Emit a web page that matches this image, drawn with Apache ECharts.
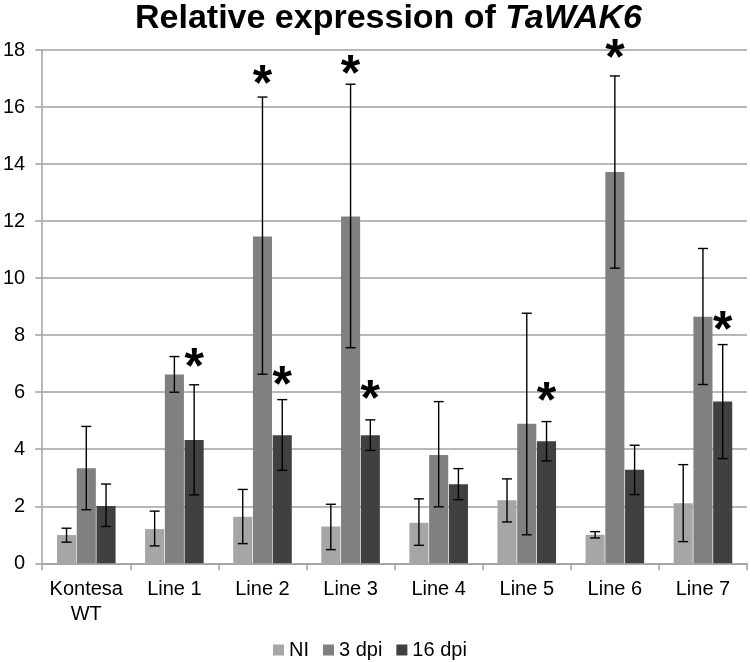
<!DOCTYPE html>
<html>
<head>
<meta charset="utf-8">
<script src="https://cdn.jsdelivr.net/npm/echarts@6/dist/echarts.min.js"></script>
<style>html,body{margin:0;padding:0;background:#fff}#c{width:750px;height:662px}</style>
</head>
<body>
<div id="c"></div>
<script>
const categories = ['Kontesa\nWT', 'Line 1', 'Line 2', 'Line 3', 'Line 4', 'Line 5', 'Line 6', 'Line 7'];
const seriesNames = ['NI', '3 dpi', '16 dpi'];
const yTicks = [0, 2, 4, 6, 8, 10, 12, 14, 16, 18];

const ni      = [0.99, 1.20, 1.63, 1.29, 1.42, 2.21, 1.00, 2.11];
const niLow   = [0.74, 0.61, 0.69, 0.48, 0.63, 1.45, 0.89, 0.76];
const niHigh  = [1.23, 1.83, 2.59, 2.07, 2.26, 2.96, 1.11, 3.46];

const dpi3     = [3.33, 6.62, 11.46, 12.16, 3.80, 4.89, 13.72, 8.65];
const dpi3Low  = [1.88, 6.00, 6.63, 7.56, 1.98, 1.00, 10.35, 6.27];
const dpi3High = [4.80, 7.25, 16.35, 16.80, 5.67, 8.77, 17.09, 11.04];

const dpi16     = [2.01, 4.32, 4.49, 4.49, 2.77, 4.28, 3.28, 5.67];
const dpi16Low  = [1.29, 2.40, 3.26, 3.96, 2.23, 3.59, 2.41, 3.67];
const dpi16High = [2.78, 6.26, 5.74, 5.03, 3.32, 4.97, 4.14, 7.67];

// significance star positions (value units), null = no star
const niStars    = [null, null, null, null, null, null, null, null];
const dpi3Stars  = [null, null, 17.13, 17.49, null, null, 18.05, null];
const dpi16Stars = [null, 7.2, 6.57, 6.09, null, 6.03, null, 8.5];

const colors = ['#a6a6a6', '#808080', '#404040'];
const CAT_GAP = 0.335, BAR_GAP = 0.035, NBARS = 3;

function errSeries(idx, low, high, stars) {
  const data = low.map((l, i) => [i, l, high[i], stars[i] == null ? NaN : stars[i]]);
  return {
    type: 'custom',
    name: 'err' + idx,
    z: 5,
    encode: { x: 0, y: [1, 2] },
    data: data,
    renderItem: function (params, api) {
      const ci = api.value(0);
      const band = api.size([1, 0])[0];
      const usable = band * (1 - CAT_GAP);
      const w = usable / (NBARS + (NBARS - 1) * BAR_GAP);
      const cx = api.coord([ci, 0])[0] - usable / 2 + w / 2 + idx * w * (1 + BAR_GAP);
      const yl = api.coord([ci, api.value(1)])[1];
      const yh = api.coord([ci, api.value(2)])[1];
      const cap = 5;
      const ls = { stroke: '#000', lineWidth: 1.4 };
      const children = [
        { type: 'line', shape: { x1: cx, y1: yl, x2: cx, y2: yh }, style: ls },
        { type: 'line', shape: { x1: cx - cap, y1: yl, x2: cx + cap, y2: yl }, style: ls },
        { type: 'line', shape: { x1: cx - cap, y1: yh, x2: cx + cap, y2: yh }, style: ls }
      ];
      const sv = api.value(3);
      if (!isNaN(sv)) {
        const fs = 50;
        const ys = api.coord([ci, sv])[1];
        children.push({
          type: 'text',
          style: {
            text: '*', x: cx, y: ys + 0.23 * fs,
            font: 'bold ' + fs + 'px "Liberation Sans", Arial, sans-serif',
            align: 'center', verticalAlign: 'middle', fill: '#000'
          }
        });
      }
      return { type: 'group', children: children };
    }
  };
}

const chart = echarts.init(document.getElementById('c'), null, { renderer: 'canvas' });
const axisGray = '#a0a0a0';
chart.setOption({
  animation: false,
  backgroundColor: '#fff',
  title: {
    text: '{b|Relative expression of }{i|TaWAK6}',
    left: 135, top: 2, padding: 0,
    textStyle: {
      rich: {
        b: { fontSize: 34, fontWeight: 'bold', color: '#000', fontFamily: '"Liberation Sans", Arial, sans-serif', lineHeight: 34 },
        i: { fontSize: 34, fontWeight: 'bold', fontStyle: 'italic', color: '#000', fontFamily: '"Liberation Sans", Arial, sans-serif', lineHeight: 34 }
      }
    }
  },
  legend: {
    data: seriesNames,
    left: 268, top: 635,
    itemWidth: 11, itemHeight: 11, itemGap: 14,
    icon: 'rect',
    textStyle: { fontSize: 20, color: '#000', fontFamily: '"Liberation Sans", Arial, sans-serif' }
  },
  grid: { left: 40, right: 3, top: 50, bottom: 98.7, containLabel: false },
  xAxis: {
    type: 'category',
    data: categories,
    axisLine: { lineStyle: { color: axisGray, width: 1.5 } },
    axisTick: { show: true, length: 7, lineStyle: { color: axisGray, width: 1.5 } },
    axisLabel: { fontSize: 20, lineHeight: 25, color: '#000', margin: 14, interval: 0,
                 fontFamily: '"Liberation Sans", Arial, sans-serif' }
  },
  yAxis: {
    type: 'value',
    min: yTicks[0], max: yTicks[yTicks.length - 1], interval: 2,
    axisLine: { show: true, lineStyle: { color: axisGray, width: 1.5 } },
    axisTick: { show: true, length: 7, lineStyle: { color: axisGray, width: 1.5 } },
    splitLine: { lineStyle: { color: axisGray, width: 1.5 } },
    axisLabel: { fontSize: 20, color: '#000', margin: 17,
                 fontFamily: '"Liberation Sans", Arial, sans-serif' }
  },
  series: [
    { type: 'bar', name: seriesNames[0], data: ni, itemStyle: { color: colors[0] },
      barGap: (BAR_GAP * 100) + '%', barCategoryGap: (CAT_GAP * 100) + '%' },
    { type: 'bar', name: seriesNames[1], data: dpi3, itemStyle: { color: colors[1] },
      barGap: (BAR_GAP * 100) + '%', barCategoryGap: (CAT_GAP * 100) + '%' },
    { type: 'bar', name: seriesNames[2], data: dpi16, itemStyle: { color: colors[2] },
      barGap: (BAR_GAP * 100) + '%', barCategoryGap: (CAT_GAP * 100) + '%' },
    errSeries(0, niLow, niHigh, niStars),
    errSeries(1, dpi3Low, dpi3High, dpi3Stars),
    errSeries(2, dpi16Low, dpi16High, dpi16Stars)
  ]
});
</script>
</body>
</html>
